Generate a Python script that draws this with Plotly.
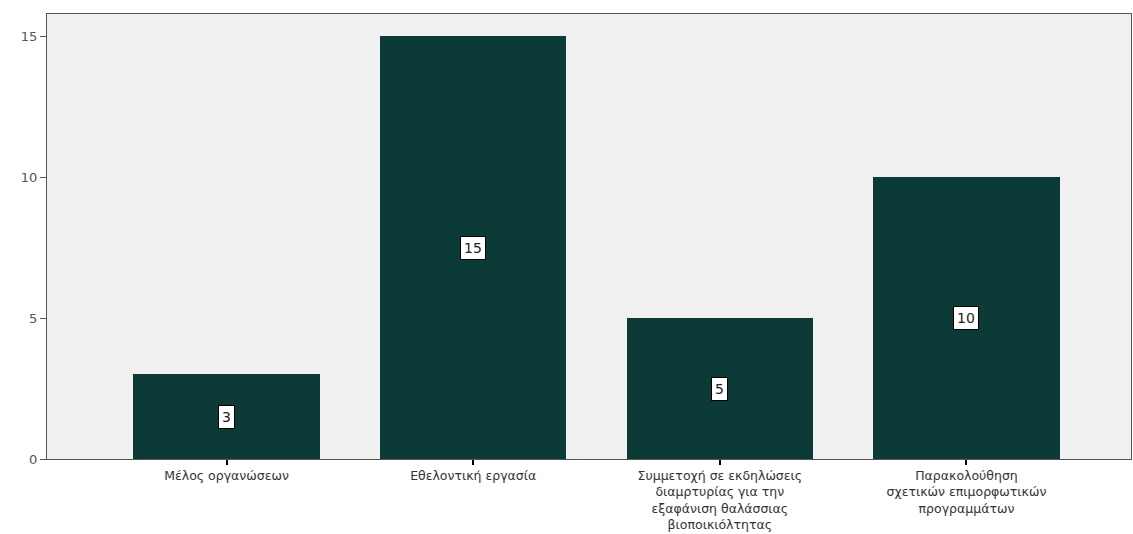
import plotly.graph_objects as go

categories = [
    "Μέλος οργανώσεων",
    "Εθελοντική εργασία",
    "Συμμετοχή σε εκδηλώσεις<br>διαμρτυρίας για την<br>εξαφάνιση θαλάσσιας<br>βιοποικιόλτητας",
    "Παρακολούθηση<br>σχετικών επιμορφωτικών<br>προγραμμάτων",
]
values = [3, 15, 5, 10]
y_ticks = [0, 5, 10, 15]

bar_color = "#0b3a37"
FONT = "DejaVu Sans, Verdana, Arial"

fig = go.Figure()
fig.add_trace(go.Bar(
    x=list(range(len(categories))),
    y=values,
    width=0.755,
    marker=dict(color=bar_color, line=dict(width=0)),
    hoverinfo="skip",
))

for i, v in enumerate(values):
    fig.add_annotation(
        x=i, y=v / 2, text=str(v), showarrow=False,
        font=dict(family=FONT, size=14, color="#222"),
        bgcolor="white", bordercolor="#000", borderwidth=1, borderpad=3,
    )

fig.update_layout(
    width=1133, height=534,
    margin=dict(l=47, r=2, t=14, b=75),
    paper_bgcolor="white",
    plot_bgcolor="#f0f0f0",
    showlegend=False,
    bargap=0,
    font=dict(family=FONT, size=13, color="#333"),
)
fig.update_xaxes(
    automargin=False,
    range=[-0.728, 3.667],
    tickmode="array",
    tickvals=list(range(len(categories))),
    ticktext=categories,
    ticks="outside", ticklen=5, tickwidth=1.5, tickcolor="#000",
    showgrid=False, zeroline=False,
    showline=True, linecolor="#555", linewidth=1, mirror=True,
    tickfont=dict(family=FONT, size=12.5, color="#333"),
)
fig.update_yaxes(
    automargin=False,
    range=[0, 15.78],
    tickmode="array",
    tickvals=y_ticks,
    ticktext=[str(t) for t in y_ticks],
    ticks="outside", ticklen=6, tickcolor="#555", tickwidth=1,
    showgrid=False, zeroline=False,
    showline=True, linecolor="#555", linewidth=1, mirror=True,
    tickfont=dict(family=FONT, size=13, color="#555"),
)

fig.write_html("out.html", config={"displayModeBar": False},
               post_script="document.body.style.margin='0';")
